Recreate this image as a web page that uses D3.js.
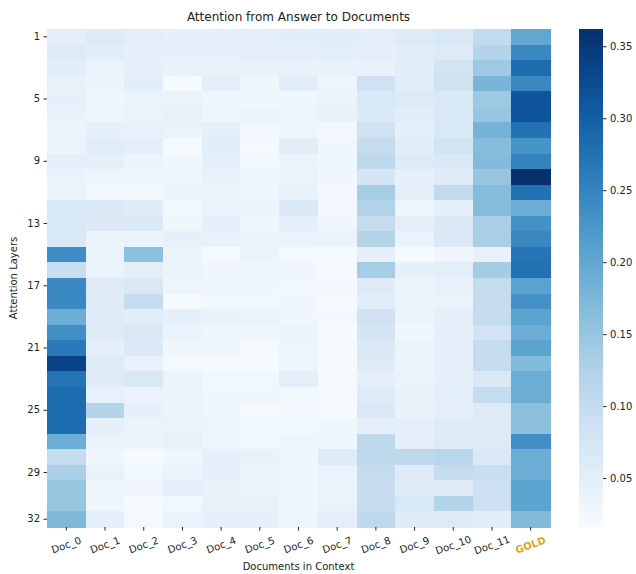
<!DOCTYPE html>
<meta charset="utf-8">
<style>
body { margin: 0; background: #fff; }
text { font-family: "DejaVu Sans", sans-serif; fill: #222; }
.cell { shape-rendering: crispEdges; }
.tick line { stroke: #222; }
</style>
<body>
<script src="https://d3js.org/d3.v7.min.js"></script>
<script>

// columns of the heatmap
var docs = ["Doc_0","Doc_1","Doc_2","Doc_3","Doc_4","Doc_5","Doc_6","Doc_7","Doc_8","Doc_9","Doc_10","Doc_11","GOLD"];
var layers = d3.range(1, 33);
var layerTicks = [1,5,9,13,17,21,25,29,32];
var cbarTicks = [0.05,0.10,0.15,0.20,0.25,0.30,0.35];

// attention per document, layers 1..32
var doc0  = [0.05,0.06,0.055,0.042,0.045,0.04,0.037,0.037,0.048,0.038,0.035,0.068,0.068,0.068,0.238,0.095,0.245,0.245,0.19,0.235,0.265,0.338,0.272,0.282,0.282,0.282,0.19,0.1,0.13,0.15,0.15,0.172];
var doc1  = [0.06,0.055,0.038,0.035,0.032,0.033,0.045,0.056,0.048,0.032,0.028,0.065,0.062,0.035,0.038,0.038,0.06,0.057,0.057,0.057,0.045,0.057,0.057,0.042,0.12,0.048,0.038,0.03,0.04,0.034,0.03,0.048];
var doc2  = [0.05,0.045,0.048,0.055,0.038,0.038,0.042,0.05,0.037,0.032,0.028,0.057,0.064,0.038,0.16,0.05,0.068,0.1,0.055,0.068,0.064,0.042,0.068,0.038,0.045,0.038,0.035,0.02,0.028,0.032,0.016,0.022];
var doc3  = [0.045,0.045,0.042,0.02,0.038,0.042,0.038,0.022,0.03,0.032,0.035,0.028,0.03,0.045,0.035,0.035,0.033,0.022,0.045,0.038,0.03,0.022,0.035,0.035,0.035,0.038,0.042,0.03,0.038,0.048,0.028,0.038];
var doc4  = [0.05,0.045,0.042,0.05,0.032,0.032,0.048,0.055,0.05,0.04,0.035,0.038,0.045,0.042,0.022,0.03,0.03,0.028,0.04,0.032,0.03,0.02,0.028,0.03,0.03,0.034,0.032,0.045,0.048,0.04,0.042,0.045];
var doc5  = [0.05,0.048,0.04,0.03,0.03,0.035,0.028,0.022,0.028,0.03,0.032,0.035,0.032,0.035,0.035,0.03,0.03,0.028,0.038,0.03,0.022,0.02,0.028,0.03,0.022,0.028,0.028,0.04,0.038,0.035,0.042,0.045];
var doc6  = [0.055,0.048,0.04,0.055,0.03,0.033,0.032,0.053,0.035,0.038,0.042,0.064,0.045,0.038,0.022,0.03,0.028,0.03,0.03,0.035,0.033,0.033,0.05,0.028,0.025,0.028,0.034,0.032,0.03,0.03,0.03,0.033];
var doc7  = [0.055,0.052,0.042,0.033,0.035,0.04,0.025,0.03,0.03,0.03,0.025,0.025,0.03,0.038,0.02,0.022,0.025,0.022,0.025,0.02,0.022,0.02,0.022,0.022,0.022,0.03,0.03,0.06,0.038,0.038,0.038,0.05];
var doc8  = [0.05,0.048,0.04,0.085,0.068,0.064,0.083,0.1,0.11,0.075,0.137,0.125,0.1,0.122,0.045,0.137,0.06,0.055,0.083,0.075,0.064,0.06,0.048,0.06,0.068,0.048,0.11,0.11,0.1,0.098,0.098,0.11];
var doc9  = [0.06,0.055,0.055,0.055,0.06,0.055,0.048,0.055,0.06,0.045,0.05,0.033,0.048,0.038,0.02,0.045,0.035,0.035,0.035,0.03,0.035,0.035,0.038,0.04,0.04,0.048,0.048,0.11,0.06,0.057,0.068,0.06];
var doc10 = [0.068,0.06,0.08,0.083,0.068,0.068,0.068,0.08,0.065,0.057,0.105,0.048,0.065,0.065,0.03,0.052,0.042,0.038,0.048,0.045,0.045,0.045,0.045,0.052,0.048,0.057,0.06,0.115,0.1,0.06,0.122,0.06];
var doc11 = [0.105,0.12,0.145,0.178,0.145,0.15,0.182,0.165,0.168,0.15,0.167,0.167,0.133,0.133,0.04,0.138,0.1,0.1,0.1,0.08,0.1,0.1,0.064,0.1,0.06,0.06,0.06,0.068,0.095,0.09,0.09,0.055];
var gold  = [0.2,0.245,0.282,0.245,0.314,0.314,0.276,0.228,0.252,0.362,0.276,0.19,0.233,0.245,0.272,0.276,0.207,0.233,0.205,0.19,0.205,0.17,0.19,0.19,0.16,0.16,0.235,0.19,0.19,0.205,0.205,0.17];

var columns = [doc0,doc1,doc2,doc3,doc4,doc5,doc6,doc7,doc8,doc9,doc10,doc11,gold];

var cells = [];
columns.forEach(function(col, i){
  col.forEach(function(v, j){
    cells.push({doc: docs[i], layer: layers[j], value: v});
  });
});

var W = 636, H = 574;
var mLeft = 47, mRight = 550, mTop = 29, mBottom = 527;
var cbL = 579, cbR = 603;

var svg = d3.select("body").append("svg").attr("width", W).attr("height", H);

var x = d3.scaleBand().domain(docs).range([mLeft, mRight]).padding(0);
var y = d3.scaleBand().domain(layers).range([mTop, mBottom]).padding(0);

var ext = d3.extent(cells, d=>d.value);
var color = d3.scaleSequential(d3.interpolateBlues).domain(ext);

svg.append("g").selectAll("rect").data(cells).join("rect")
  .attr("class","cell")
  .attr("x", d=>x(d.doc))
  .attr("y", d=>y(d.layer))
  .attr("width", x.bandwidth()+0.5)
  .attr("height", y.bandwidth()+0.5)
  .attr("fill", d=>color(d.value));

// axes
var xAxis = svg.append("g").attr("transform","translate(0,"+mBottom+")")
  .call(d3.axisBottom(x).tickSize(3.5).tickPadding(3.5));
xAxis.select(".domain").remove();
xAxis.selectAll("text")
  .style("font-size","10px")
  .attr("y", 0).attr("dy", null)
  .attr("dominant-baseline","central")
  .attr("text-anchor","middle")
  .attr("transform","translate(0,18) rotate(-20)")
  .style("fill", d=>d=="GOLD" ? "#DAA520" : "#222")
  .style("font-weight", d=>d=="GOLD" ? "bold" : "normal");

var yAxis = svg.append("g").attr("transform","translate("+mLeft+",0)")
  .call(d3.axisLeft(y).tickValues(layerTicks).tickSize(3.5).tickPadding(3.5));
yAxis.select(".domain").remove();
yAxis.selectAll("text").style("font-size","10px");

// labels
svg.append("text").attr("x", (mLeft+mRight)/2).attr("y", 21)
  .attr("text-anchor","middle").style("font-size","12px")
  .text("Attention from Answer to Documents");

svg.append("text").attr("x", (mLeft+mRight)/2).attr("y", 570)
  .attr("text-anchor","middle").style("font-size","10px")
  .text("Documents in Context");

svg.append("text").attr("transform","translate(17,"+((mTop+mBottom)/2)+") rotate(-90)")
  .attr("text-anchor","middle").style("font-size","10px")
  .text("Attention Layers");

// colorbar
var defs = svg.append("defs");
var grad = defs.append("linearGradient").attr("id","cb")
  .attr("x1","0").attr("y1","1").attr("x2","0").attr("y2","0");
d3.range(0, 1.0001, 0.05).forEach(function(t){
  grad.append("stop").attr("offset", t).attr("stop-color", d3.interpolateBlues(t));
});
svg.append("rect").attr("x", cbL).attr("y", mTop)
  .attr("width", cbR-cbL).attr("height", mBottom-mTop)
  .attr("fill","url(#cb)");

var cy = d3.scaleLinear().domain(ext).range([mBottom, mTop]);
var cAxis = svg.append("g").attr("transform","translate("+cbR+",0)")
  .call(d3.axisRight(cy).tickValues(cbarTicks).tickFormat(d3.format(".2f")).tickSize(3.5).tickPadding(3.5));
cAxis.select(".domain").remove();
cAxis.selectAll("text").style("font-size","10px");

</script>
</body>
